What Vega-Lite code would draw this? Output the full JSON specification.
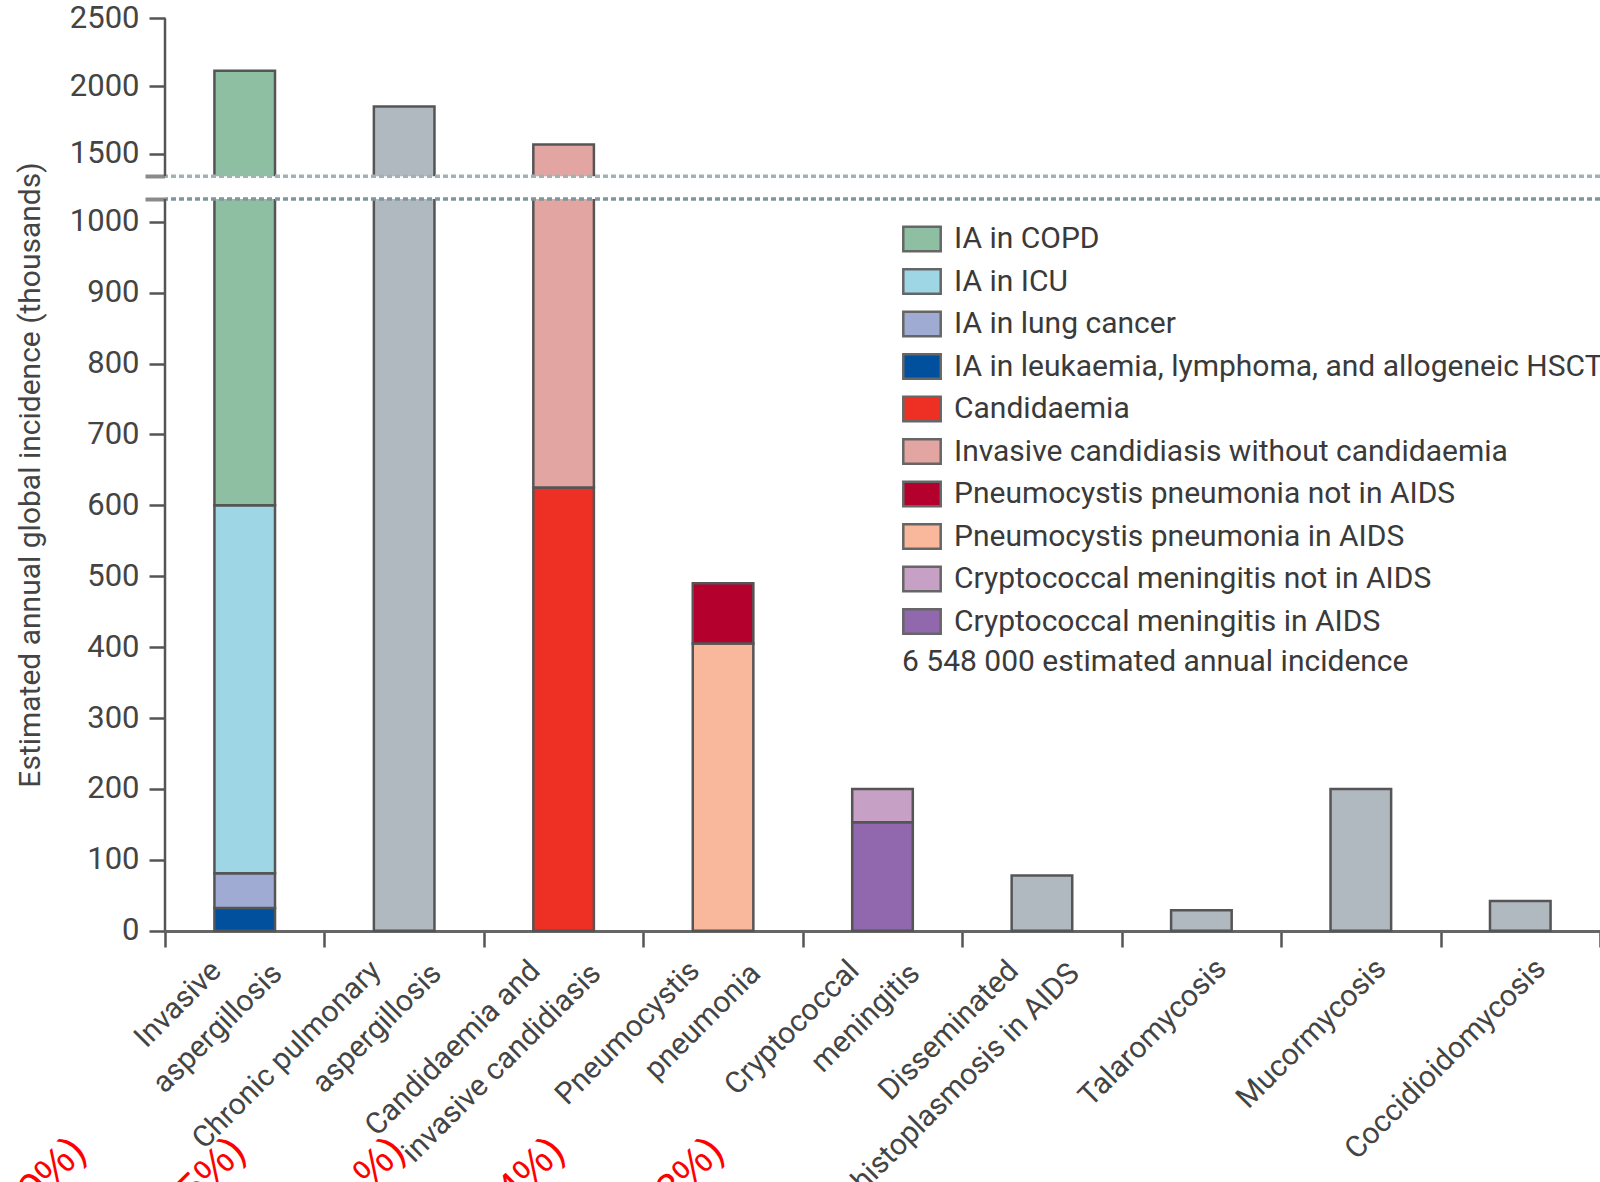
{
  "$schema": "https://vega.github.io/schema/vega-lite/v6.json",
  "width": 1435,
  "height": 913,
  "autosize": {"type": "none"},
  "padding": {"left": 165, "top": 18, "right": 0, "bottom": 251},
  "background": "white",
  "config": {"view": {"stroke": null}, "font": "Roboto"},
  "datasets": {
    "bars": [
      {"disease": "Invasive|aspergillosis", "component": "IA in leukaemia, lymphoma, and allogeneic HSCT", "value": 32, "rank": 1},
      {"disease": "Invasive|aspergillosis", "component": "IA in lung cancer", "value": 49, "rank": 2},
      {"disease": "Invasive|aspergillosis", "component": "IA in ICU", "value": 519, "rank": 3},
      {"disease": "Invasive|aspergillosis", "component": "IA in COPD", "value": 1513, "rank": 4},
      {"disease": "Chronic pulmonary|aspergillosis", "component": "Other", "value": 1850, "rank": 1},
      {"disease": "Candidaemia and|invasive candidiasis", "component": "Candidaemia", "value": 625, "rank": 1},
      {"disease": "Candidaemia and|invasive candidiasis", "component": "Invasive candidiasis without candidaemia", "value": 945, "rank": 2},
      {"disease": "Pneumocystis|pneumonia", "component": "Pneumocystis pneumonia in AIDS", "value": 405, "rank": 1},
      {"disease": "Pneumocystis|pneumonia", "component": "Pneumocystis pneumonia not in AIDS", "value": 85, "rank": 2},
      {"disease": "Cryptococcal|meningitis", "component": "Cryptococcal meningitis in AIDS", "value": 153, "rank": 1},
      {"disease": "Cryptococcal|meningitis", "component": "Cryptococcal meningitis not in AIDS", "value": 47, "rank": 2},
      {"disease": "Disseminated|histoplasmosis in AIDS", "component": "Other", "value": 78, "rank": 1},
      {"disease": "Talaromycosis", "component": "Other", "value": 29, "rank": 1},
      {"disease": "Mucormycosis", "component": "Other", "value": 200, "rank": 1},
      {"disease": "Coccidioidomycosis", "component": "Other", "value": 42, "rank": 1}
    ],
    "cats": [
      {"disease": "Invasive|aspergillosis", "l1": "Invasive", "l2": "aspergillosis"},
      {"disease": "Chronic pulmonary|aspergillosis", "l1": "Chronic pulmonary", "l2": "aspergillosis"},
      {"disease": "Candidaemia and|invasive candidiasis", "l1": "Candidaemia and", "l2": "invasive candidiasis"},
      {"disease": "Pneumocystis|pneumonia", "l1": "Pneumocystis", "l2": "pneumonia"},
      {"disease": "Cryptococcal|meningitis", "l1": "Cryptococcal", "l2": "meningitis"},
      {"disease": "Disseminated|histoplasmosis in AIDS", "l1": "Disseminated", "l2": "histoplasmosis in AIDS"},
      {"disease": "Talaromycosis", "l1": "Talaromycosis", "l2": ""},
      {"disease": "Mucormycosis", "l1": "Mucormycosis", "l2": ""},
      {"disease": "Coccidioidomycosis", "l1": "Coccidioidomycosis", "l2": ""}
    ],
    "notes": [
      {"disease": "Invasive|aspergillosis", "label": "0%)"},
      {"disease": "Chronic pulmonary|aspergillosis", "label": "5%)"},
      {"disease": "Candidaemia and|invasive candidiasis", "label": "%)"},
      {"disease": "Pneumocystis|pneumonia", "label": "4%)"},
      {"disease": "Cryptococcal|meningitis", "label": "3%)"}
    ]
  },
  "layer": [
    {
      "data": {"name": "bars"},
      "mark": {"type": "bar", "width": {"band": 0.38}, "stroke": "#555555", "strokeWidth": 2.5},
      "encoding": {
        "x": {
          "field": "disease", "type": "nominal", "title": null,
          "scale": {
            "domain": ["Invasive|aspergillosis", "Chronic pulmonary|aspergillosis", "Candidaemia and|invasive candidiasis", "Pneumocystis|pneumonia", "Cryptococcal|meningitis", "Disseminated|histoplasmosis in AIDS", "Talaromycosis", "Mucormycosis", "Coccidioidomycosis"],
            "paddingInner": 0, "paddingOuter": 0
          },
          "axis": {
            "title": null, "labels": false,
            "tickBand": "extent", "tickSize": 16, "tickColor": "#555", "tickWidth": 2.5,
            "domainColor": "#666", "domainWidth": 3, "grid": false
          }
        },
        "y": {
          "field": "value", "type": "quantitative", "stack": "zero",
          "scale": {"domain": [0, 1000, 2500], "range": [912.7, 203.7, 0.3], "nice": false, "zero": false, "clamp": false},
          "axis": {
            "values": [0, 100, 200, 300, 400, 500, 600, 700, 800, 900, 1000, 1167, 1336, 1500, 2000, 2500],
            "format": "d",
            "title": "Estimated annual global incidence (thousands)",
            "titleFont": "Roboto", "titleFontSize": 30, "titleFontWeight": "normal", "titleColor": "#444", "titlePadding": 24,
            "domain": false, "grid": false,
            "labelFont": "Roboto", "labelFontSize": 31, "labelColor": "#444", "labelPadding": 10,
            "labelOverlap": false, "labelFlush": false,
            "labelExpr": "datum.value == 1167 || datum.value == 1336 ? '' : datum.label",
            "tickSize": {"condition": {"test": "datum.value == 1167 || datum.value == 1336", "value": 20}, "value": 16},
            "tickColor": {"condition": {"test": "datum.value == 1167 || datum.value == 1336", "value": "#8a8a8a"}, "value": "#555"},
            "tickWidth": {"condition": {"test": "datum.value == 1167 || datum.value == 1336", "value": 4}, "value": 2.5}
          }
        },
        "color": {
          "field": "component", "type": "nominal",
          "scale": {
            "domain": ["IA in COPD", "IA in ICU", "IA in lung cancer", "IA in leukaemia, lymphoma, and allogeneic HSCT", "Candidaemia", "Invasive candidiasis without candidaemia", "Pneumocystis pneumonia not in AIDS", "Pneumocystis pneumonia in AIDS", "Cryptococcal meningitis not in AIDS", "Cryptococcal meningitis in AIDS", "Other"],
            "range": ["#8fbfa3", "#9fd6e6", "#9fabd3", "#00509d", "#ee3024", "#e3a5a2", "#b3002d", "#f9b89b", "#c7a1c5", "#9168ad", "#b1b9c0"]
          },
          "legend": {
            "values": ["IA in COPD", "IA in ICU", "IA in lung cancer", "IA in leukaemia, lymphoma, and allogeneic HSCT", "Candidaemia", "Invasive candidiasis without candidaemia", "Pneumocystis pneumonia not in AIDS", "Pneumocystis pneumonia in AIDS", "Cryptococcal meningitis not in AIDS", "Cryptococcal meningitis in AIDS"],
            "orient": "none", "legendX": 737, "legendY": 201, "padding": 0,
            "title": "6 548 000 estimated annual incidence",
            "titleOrient": "bottom", "titleAnchor": "start", "titleAlign": "left",
            "titleFont": "Roboto", "titleFontSize": 30, "titleFontWeight": "normal", "titleColor": "#3a3a3a",
            "titlePadding": 8, "titleLimit": 2000,
            "labelFont": "Roboto", "labelFontSize": 30, "labelColor": "#3a3a3a", "labelOffset": 12, "labelLimit": 2000,
            "symbolType": "M-1,-0.65H1V0.65H-1Z", "symbolSize": 1400,
            "symbolStrokeColor": "#666", "symbolStrokeWidth": 2.5, "symbolOpacity": 1,
            "rowPadding": 4.5
          }
        },
        "order": {"field": "rank", "type": "quantitative"}
      }
    },
    {
      "data": {"values": [{}]},
      "mark": {"type": "rect", "color": "white"},
      "encoding": {
        "y": {"datum": 1167, "type": "quantitative"},
        "y2": {"datum": 1336}
      }
    },
    {
      "data": {"values": [{}]},
      "mark": {"type": "rule", "stroke": "#7f969b", "strokeWidth": 3.5, "strokeDash": [5, 3]},
      "encoding": {"y": {"datum": 1167, "type": "quantitative"}}
    },
    {
      "data": {"values": [{}]},
      "mark": {"type": "rule", "stroke": "#a0b2b6", "strokeWidth": 3.5, "strokeDash": [5, 3]},
      "encoding": {"y": {"datum": 1336, "type": "quantitative"}}
    },
    {
      "data": {"values": [{}]},
      "mark": {"type": "rule", "stroke": "#555", "strokeWidth": 2.5},
      "encoding": {
        "x": {"datum": "Invasive|aspergillosis", "type": "nominal", "bandPosition": 0, "title": null},
        "y": {"datum": 0, "type": "quantitative"},
        "y2": {"datum": 1167}
      }
    },
    {
      "data": {"values": [{}]},
      "mark": {"type": "rule", "stroke": "#555", "strokeWidth": 2.5},
      "encoding": {
        "x": {"datum": "Invasive|aspergillosis", "type": "nominal", "bandPosition": 0, "title": null},
        "y": {"datum": 1336, "type": "quantitative"},
        "y2": {"datum": 2500}
      }
    },
    {
      "data": {"name": "cats"},
      "transform": [{"filter": "datum.l2 != ''"}],
      "mark": {"type": "text", "angle": -45, "align": "right", "baseline": "middle", "dx": -45, "dy": 5, "font": "Roboto", "fontSize": 30, "fill": "#444"},
      "encoding": {
        "x": {"field": "disease", "type": "nominal", "title": null},
        "y": {"datum": 0, "type": "quantitative"},
        "text": {"field": "l1"}
      }
    },
    {
      "data": {"name": "cats"},
      "transform": [{"filter": "datum.l2 != ''"}],
      "mark": {"type": "text", "angle": -45, "align": "right", "baseline": "middle", "dx": -4, "dy": 50, "font": "Roboto", "fontSize": 30, "fill": "#444"},
      "encoding": {
        "x": {"field": "disease", "type": "nominal", "title": null},
        "y": {"datum": 0, "type": "quantitative"},
        "text": {"field": "l2"}
      }
    },
    {
      "data": {"name": "cats"},
      "transform": [{"filter": "datum.l2 == ''"}],
      "mark": {"type": "text", "angle": -45, "align": "right", "baseline": "middle", "dx": -9, "dy": 38, "font": "Roboto", "fontSize": 30, "fill": "#444"},
      "encoding": {
        "x": {"field": "disease", "type": "nominal", "title": null},
        "y": {"datum": 0, "type": "quantitative"},
        "text": {"field": "l1"}
      }
    },
    {
      "data": {"name": "notes"},
      "mark": {"type": "text", "angle": -45, "align": "right", "baseline": "middle", "dx": -122, "dy": -113, "font": "Liberation Sans", "fontSize": 42, "fill": "#ff0000"},
      "encoding": {
        "x": {"field": "disease", "type": "nominal", "title": null},
        "y": {"datum": -292, "type": "quantitative"},
        "text": {"field": "label"}
      }
    }
  ]
}
